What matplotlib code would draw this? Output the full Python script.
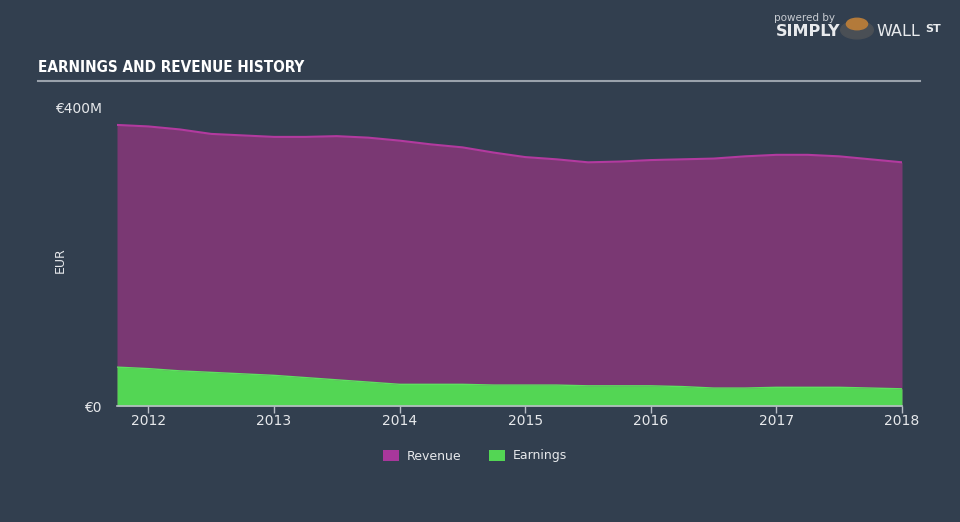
import numpy as np
import matplotlib.pyplot as plt
from matplotlib.patches import Patch

# 数据 (单位: 百万欧元, 横轴为小数年份)
years = [2011.75, 2012.0, 2012.25, 2012.5, 2012.75, 2013.0, 2013.25, 2013.5, 2013.75,
         2014.0, 2014.25, 2014.5, 2014.75, 2015.0, 2015.25, 2015.5, 2015.75, 2016.0,
         2016.25, 2016.5, 2016.75, 2017.0, 2017.25, 2017.5, 2017.75, 2018.0]
revenue = [376, 374, 370, 364, 362, 360, 360, 361, 359, 355, 350, 346, 339, 333, 330, 326,
           327, 329, 330, 331, 334, 336, 336, 334, 330, 326]
earnings = [52, 50, 47, 45, 43, 41, 38, 35, 32, 29, 29, 29, 28, 28, 28, 27, 27, 27,
            26, 24, 24, 25, 25, 25, 24, 23]
year_ticks = [2012, 2013, 2014, 2015, 2016, 2017, 2018]

BG = '#323f4f'
REV_FILL = '#7a3873'
REV_LINE = '#b23a9f'
EARN_FILL = '#53d654'
TEXT = '#e6e8eb'
AXIS = '#b8bec6'

fig = plt.figure(figsize=(9.6, 5.22), dpi=100, facecolor=BG)
ax = fig.add_axes([117 / 960, 1 - 406 / 522, 785 / 960, 299 / 522])
ax.set_facecolor(BG)

ax.fill_between(years, 0, revenue, color=REV_FILL, linewidth=0)
ax.plot(years, revenue, color=REV_LINE, linewidth=1.5)
ax.fill_between(years, 0, earnings, color=EARN_FILL, linewidth=0)
ax.plot(years, earnings, color='#5ee060', linewidth=1)

ax.set_xlim(years[0], 2018.0)
ax.set_ylim(0, 400)
ax.set_yticks([0, 400])
ax.set_yticklabels(['€0', '€400M'])
ax.set_xticks(year_ticks)
ax.set_xticklabels([str(y) for y in year_ticks])

for s in ['top', 'right', 'left']:
    ax.spines[s].set_visible(False)
ax.spines['bottom'].set_color(AXIS)
ax.spines['bottom'].set_linewidth(1.2)
ax.tick_params(axis='x', colors=AXIS, length=5, width=1, labelcolor=TEXT, labelsize=10, pad=1)
ax.tick_params(axis='y', length=0, labelcolor=TEXT, labelsize=10, pad=11)

fig.text(60 / 960, 1 - 260 / 522, 'EUR', color=TEXT, fontsize=9, rotation=90,
         ha='center', va='center')

# 标题与下划线
fig.text(38 / 960, 1 - 68 / 522, 'EARNINGS AND REVENUE HISTORY', color='white',
         fontsize=11, fontweight='bold', fontstretch='condensed', va='center', ha='left')
fig.add_artist(plt.Line2D([38 / 960, 920 / 960], [1 - 81 / 522, 1 - 81 / 522],
                          color='#9aa2ac', linewidth=1.5))

# 标志
fig.text(805 / 960, 1 - 18 / 522, 'powered by', color='#c8ccd2', fontsize=7.5,
         ha='center', va='center')
fig.text(776 / 960, 1 - 31 / 522, 'SIMPLY', color='#e8eaed', fontsize=11.5,
         fontweight='bold', ha='left', va='center')
fig.text(876 / 960, 1 - 31 / 522, 'WALL', color='#e8eaed', fontsize=11.5,
         ha='left', va='center')
fig.text(925 / 960, 1 - 29 / 522, 'ST', color='#e8eaed', fontsize=8,
         fontweight='bold', ha='left', va='center')
fig.add_artist(plt.Circle((857 / 960, 1 - 30 / 522), 0.017, transform=fig.transFigure,
                          color='#4a4f55'))
fig.add_artist(plt.Circle((857 / 960, 1 - 24 / 522), 0.011, transform=fig.transFigure,
                          color='#b37a3a'))

# 图例
handles = [Patch(facecolor='#a8379b', label='Revenue'),
           Patch(facecolor=EARN_FILL, label='Earnings')]
fig.legend(handles=handles, loc='center', bbox_to_anchor=(475 / 960, 1 - 456 / 522),
           ncol=2, frameon=False, fontsize=9, labelcolor=TEXT, handlelength=1.3,
           handleheight=1.0, columnspacing=2.2, handletextpad=0.6)

fig.savefig('out.png', dpi=100, facecolor=BG)
